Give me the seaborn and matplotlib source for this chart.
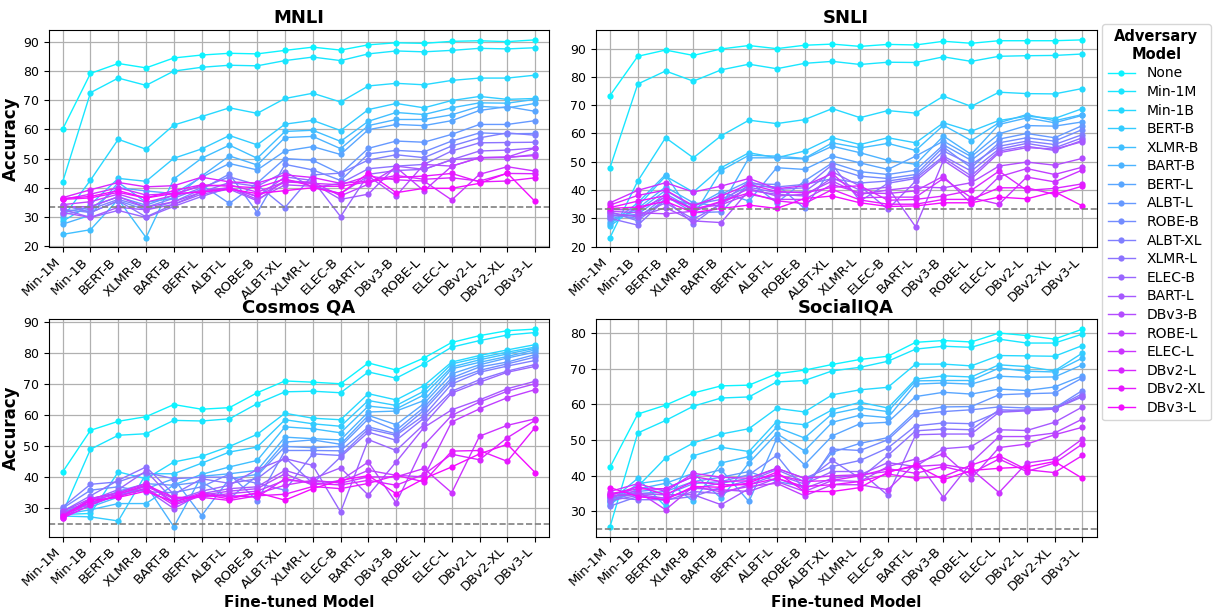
import pandas as pd
import matplotlib
matplotlib.use('Agg')
import matplotlib.pyplot as plt
from matplotlib.ticker import MultipleLocator
import seaborn as sns

# fine-tuned models (x axis) and adversary models (hue)
models = ['Min-1M', 'Min-1B', 'BERT-B', 'XLMR-B', 'BART-B', 'BERT-L', 'ALBT-L', 'ROBE-B',
          'ALBT-XL', 'XLMR-L', 'ELEC-B', 'BART-L', 'DBv3-B', 'ROBE-L', 'ELEC-L', 'DBv2-L',
          'DBv2-XL', 'DBv3-L']
adversaries = ['None'] + models

# accuracy, one row per adversary (same order as `adversaries`)
mnli_acc = [
    [60.1, 79.2, 82.6, 81.1, 84.5, 85.5, 86.1, 85.9, 87.1, 88.2, 87.2, 89.0, 89.7, 89.5, 90.2, 90.4, 90.1, 90.7],  # None
    [42.0, 72.6, 77.6, 75.1, 80.0, 81.3, 82.0, 81.8, 83.6, 84.8, 83.6, 85.9, 86.9, 86.6, 87.1, 87.8, 87.6, 88.0],  # Min-1M
    [29.7, 42.6, 56.6, 53.2, 61.5, 64.4, 67.4, 65.5, 70.6, 72.4, 69.4, 74.9, 75.8, 75.3, 76.8, 77.6, 77.6, 78.6],  # Min-1B
    [28.5, 34.2, 43.2, 42.2, 50.1, 53.3, 57.9, 54.7, 61.8, 63.1, 59.6, 66.8, 68.9, 67.4, 69.9, 71.3, 70.3, 70.6],  # BERT-B
    [24.0, 25.6, 36.0, 22.9, 43.0, 50.1, 54.6, 50.1, 59.3, 59.7, 55.9, 62.8, 65.8, 65.1, 67.4, 69.1, 69.0, 70.3],  # XLMR-B
    [27.5, 30.6, 41.8, 35.0, 36.4, 44.0, 50.9, 47.8, 57.2, 57.6, 53.4, 61.3, 63.4, 63.4, 65.0, 67.9, 67.4, 68.9],  # BART-B
    [30.8, 32.6, 40.0, 38.9, 38.0, 43.6, 48.3, 46.1, 52.6, 54.1, 51.4, 59.9, 61.7, 61.3, 63.0, 66.5, 67.8, 66.2],  # BERT-L
    [31.5, 33.5, 36.9, 34.0, 37.4, 41.0, 34.6, 41.6, 50.0, 49.4, 44.8, 53.5, 56.0, 55.6, 58.3, 61.7, 61.7, 63.0],  # ALBT-L
    [32.6, 31.5, 35.5, 32.4, 35.2, 39.5, 44.7, 31.5, 48.0, 46.1, 42.5, 51.6, 52.8, 52.3, 56.0, 58.8, 58.5, 58.6],  # ROBE-B
    [33.5, 32.6, 36.0, 33.3, 36.4, 40.0, 43.7, 41.0, 33.2, 44.4, 45.0, 49.5, 51.3, 50.3, 54.3, 57.1, 58.8, 58.0],  # ALBT-XL
    [34.2, 31.5, 35.5, 30.0, 34.3, 38.5, 41.8, 40.5, 45.5, 40.0, 41.5, 46.5, 47.4, 48.0, 52.6, 55.4, 55.5, 55.6],  # XLMR-L
    [32.6, 29.8, 32.2, 29.8, 33.6, 37.0, 40.0, 37.0, 43.7, 42.5, 30.1, 44.6, 45.9, 46.3, 49.6, 52.6, 52.9, 53.6],  # ELEC-B
    [31.5, 29.8, 33.3, 32.4, 34.3, 37.8, 39.5, 35.5, 42.6, 41.5, 36.0, 37.8, 47.4, 46.3, 49.6, 50.3, 50.3, 51.4],  # BART-L
    [33.5, 33.5, 36.9, 33.3, 35.2, 38.5, 40.0, 36.0, 41.0, 40.5, 38.0, 44.0, 37.2, 48.0, 47.4, 50.3, 50.5, 53.6],  # DBv3-B
    [34.2, 35.2, 37.8, 35.0, 37.4, 39.0, 40.0, 37.0, 42.0, 42.0, 37.2, 41.2, 47.0, 38.9, 47.4, 50.3, 50.5, 51.0],  # ROBE-L
    [36.0, 37.8, 40.0, 37.5, 38.0, 40.5, 41.0, 38.5, 42.0, 41.5, 41.0, 44.0, 42.7, 42.3, 35.8, 44.6, 47.2, 45.7],  # ELEC-L
    [36.6, 39.3, 41.8, 40.3, 40.7, 43.6, 42.0, 41.6, 44.4, 43.5, 41.5, 42.3, 44.2, 42.9, 43.4, 42.3, 44.9, 44.8],  # DBv2-L
    [36.0, 36.5, 38.4, 36.5, 39.0, 41.0, 40.5, 40.0, 43.0, 40.5, 40.5, 42.0, 43.5, 44.0, 44.9, 42.0, 42.3, 43.4],  # DBv2-XL
    [36.3, 37.0, 39.0, 36.5, 38.0, 38.5, 39.5, 38.0, 39.0, 40.0, 38.0, 45.0, 38.3, 39.8, 39.8, 41.5, 45.0, 35.3],  # DBv3-L
]

snli_acc = [
    [73.4, 87.3, 89.5, 87.6, 89.9, 91.1, 90.0, 91.2, 91.6, 90.8, 91.5, 91.3, 92.6, 91.9, 92.8, 92.8, 92.8, 93.1],
    [47.9, 77.5, 82.1, 78.5, 82.5, 84.5, 82.9, 84.8, 85.5, 84.4, 85.2, 85.1, 87.1, 85.5, 87.3, 87.5, 87.6, 88.1],
    [23.2, 43.2, 58.5, 51.4, 59.2, 64.7, 63.5, 64.9, 68.8, 65.6, 68.1, 67.2, 73.2, 69.6, 74.6, 74.1, 74.0, 75.9],
    [27.3, 34.3, 44.9, 39.3, 47.9, 53.2, 51.4, 53.8, 58.5, 56.1, 58.5, 56.7, 63.8, 60.8, 64.6, 66.1, 65.3, 68.8],
    [27.9, 35.5, 45.5, 30.8, 46.9, 52.3, 52.0, 51.2, 56.7, 54.9, 56.5, 54.0, 62.9, 57.5, 63.8, 66.7, 64.5, 66.7],
    [28.8, 33.5, 41.1, 35.5, 34.3, 51.4, 51.4, 51.0, 55.5, 53.2, 50.5, 49.1, 59.1, 52.6, 63.2, 65.5, 63.8, 66.4],
    [29.7, 32.6, 39.9, 34.0, 39.4, 36.1, 47.9, 47.3, 52.0, 49.6, 47.3, 52.0, 57.3, 51.8, 59.9, 62.8, 62.6, 64.1],
    [30.7, 31.4, 38.7, 33.2, 38.5, 43.2, 35.5, 43.2, 49.6, 46.5, 45.5, 47.0, 56.0, 50.5, 58.0, 60.0, 58.5, 62.8],
    [31.4, 30.0, 37.9, 32.0, 32.3, 42.2, 42.0, 33.5, 47.9, 44.9, 44.1, 45.5, 55.2, 47.9, 56.7, 58.5, 57.3, 61.4],
    [32.3, 29.1, 37.0, 34.9, 36.7, 41.4, 41.1, 42.0, 44.0, 42.5, 43.2, 44.6, 53.8, 49.0, 55.5, 57.3, 56.1, 59.6],
    [30.0, 27.6, 36.7, 28.1, 35.5, 43.0, 40.2, 40.8, 49.0, 36.1, 42.4, 44.1, 52.0, 46.7, 54.5, 56.5, 54.9, 58.5],
    [31.0, 31.0, 35.5, 29.7, 35.0, 41.0, 39.1, 39.4, 46.5, 41.4, 33.2, 43.2, 51.4, 45.0, 53.8, 55.5, 54.0, 57.6],
    [32.0, 30.5, 33.8, 29.1, 28.5, 39.9, 38.5, 37.9, 44.3, 40.0, 41.0, 27.0, 50.5, 44.0, 53.2, 55.0, 54.5, 57.1],
    [32.5, 32.0, 31.6, 32.5, 35.8, 40.5, 37.9, 38.5, 43.2, 38.5, 40.0, 41.1, 40.8, 42.6, 48.5, 49.9, 48.8, 51.2],
    [33.1, 33.0, 37.5, 33.5, 34.8, 38.5, 36.7, 36.7, 42.0, 39.0, 38.8, 39.7, 44.9, 35.2, 44.7, 47.6, 45.5, 48.1],
    [35.5, 39.9, 42.6, 39.3, 41.4, 44.1, 40.5, 41.5, 45.8, 37.3, 37.5, 37.5, 44.1, 37.3, 35.0, 44.6, 42.9, 47.1],
    [34.7, 38.1, 40.0, 34.5, 37.9, 42.0, 39.5, 39.0, 41.0, 41.5, 36.4, 36.7, 37.9, 39.9, 46.7, 39.9, 40.6, 42.2],
    [33.8, 36.1, 38.0, 33.0, 36.0, 39.0, 36.2, 35.2, 40.2, 36.5, 35.0, 35.0, 36.7, 36.7, 40.8, 40.8, 38.5, 41.4],
    [33.5, 34.0, 36.0, 32.0, 33.5, 34.7, 33.5, 37.0, 37.9, 35.5, 34.2, 34.4, 35.5, 35.5, 37.5, 36.9, 39.4, 34.4],
]

cosmos_acc = [
    [41.7, 55.1, 58.0, 59.5, 63.4, 61.9, 62.4, 67.2, 71.0, 70.6, 70.1, 76.8, 74.5, 78.4, 83.4, 85.6, 87.2, 87.7],
    [28.5, 49.0, 53.5, 54.0, 58.3, 58.1, 58.8, 63.7, 67.5, 67.7, 67.2, 73.9, 71.9, 76.5, 81.9, 84.0, 85.8, 86.6],
    [28.0, 28.3, 41.7, 39.5, 44.9, 46.7, 49.9, 53.8, 60.6, 59.0, 58.5, 66.9, 64.9, 69.5, 77.1, 79.2, 81.0, 82.7],
    [27.5, 27.2, 25.9, 41.1, 41.1, 44.5, 48.1, 49.7, 58.5, 57.2, 56.4, 64.7, 63.1, 67.7, 76.5, 78.5, 80.3, 81.9],
    [28.0, 29.5, 31.5, 31.5, 37.5, 40.9, 43.3, 45.4, 56.2, 55.6, 54.3, 62.9, 62.0, 66.5, 75.5, 77.8, 79.7, 81.5],
    [28.5, 30.4, 33.6, 37.4, 24.0, 40.3, 41.1, 42.2, 52.9, 52.4, 52.0, 61.0, 61.3, 64.7, 74.9, 77.0, 78.9, 81.0],
    [29.0, 31.0, 34.2, 36.3, 39.5, 27.6, 39.5, 40.9, 51.3, 52.0, 50.6, 59.9, 56.9, 63.7, 73.3, 76.2, 78.4, 80.3],
    [29.5, 31.5, 35.5, 37.9, 37.4, 38.5, 33.1, 40.5, 49.9, 49.5, 49.9, 58.8, 55.1, 62.5, 72.0, 75.5, 77.1, 79.5],
    [30.0, 35.8, 36.9, 35.3, 35.0, 36.9, 41.0, 32.4, 48.6, 48.6, 48.5, 56.2, 54.0, 61.5, 71.2, 74.4, 76.5, 78.7],
    [30.4, 37.7, 38.5, 41.5, 39.5, 40.0, 40.0, 38.0, 35.8, 47.5, 47.0, 55.5, 53.5, 59.9, 70.0, 73.8, 75.8, 77.6],
    [29.0, 34.0, 39.0, 43.3, 34.5, 39.5, 38.0, 39.5, 46.3, 38.0, 46.5, 54.5, 51.9, 59.0, 67.7, 71.4, 74.2, 76.3],
    [28.0, 32.6, 36.0, 42.0, 32.5, 35.5, 37.4, 42.5, 46.0, 43.8, 28.8, 52.1, 48.6, 57.0, 67.1, 70.6, 73.8, 75.7],
    [28.5, 31.5, 34.0, 36.0, 29.9, 34.7, 36.3, 36.9, 42.2, 39.5, 43.0, 34.2, 44.9, 56.0, 61.7, 64.9, 68.5, 70.9],
    [29.0, 33.1, 34.9, 38.0, 31.5, 34.2, 35.5, 36.3, 41.1, 37.4, 39.0, 44.9, 31.7, 50.3, 59.9, 64.2, 67.7, 70.1],
    [28.0, 32.6, 34.5, 37.0, 33.1, 33.6, 34.7, 35.5, 39.0, 38.5, 38.5, 42.2, 40.6, 40.1, 57.8, 62.0, 65.6, 68.2],
    [27.5, 33.1, 35.0, 38.0, 32.0, 35.0, 33.6, 34.7, 37.4, 39.0, 38.1, 40.1, 40.1, 42.8, 35.0, 53.2, 56.7, 58.8],
    [27.0, 32.0, 33.8, 36.5, 31.0, 34.0, 34.0, 33.6, 39.5, 38.0, 37.5, 39.0, 37.4, 40.9, 47.4, 45.6, 52.7, 58.3],
    [26.8, 31.0, 34.5, 37.5, 33.5, 33.5, 32.5, 34.0, 34.5, 37.0, 36.3, 38.0, 40.6, 38.5, 48.4, 48.6, 45.1, 56.0],
    [27.5, 32.5, 33.5, 35.5, 32.0, 34.5, 33.0, 35.0, 32.6, 36.3, 39.0, 40.5, 34.7, 39.5, 43.3, 47.5, 50.6, 41.5],
]

siqa_acc = [
    [42.4, 57.3, 59.8, 63.2, 65.2, 65.4, 68.6, 69.6, 71.2, 72.6, 73.5, 77.4, 77.9, 77.5, 80.0, 79.3, 78.3, 81.1],
    [25.7, 52.0, 55.5, 59.5, 61.8, 62.1, 66.3, 66.7, 69.4, 70.4, 72.1, 75.5, 76.3, 76.0, 78.3, 77.2, 77.2, 79.7],
    [33.5, 37.0, 45.0, 49.2, 51.7, 53.2, 58.9, 57.9, 62.7, 64.1, 64.8, 71.3, 71.3, 70.8, 73.7, 73.6, 73.5, 76.5],
    [32.8, 39.3, 31.4, 45.6, 48.0, 46.8, 55.2, 54.3, 58.5, 60.6, 59.0, 67.1, 68.0, 67.7, 71.1, 70.6, 69.4, 74.4],
    [31.9, 37.8, 38.9, 32.8, 43.6, 45.4, 53.6, 50.6, 57.4, 59.0, 58.0, 66.6, 66.7, 66.7, 70.2, 69.3, 69.1, 73.0],
    [32.5, 36.3, 37.9, 40.7, 33.7, 43.6, 51.8, 47.0, 55.0, 57.0, 56.3, 65.7, 66.0, 65.7, 67.9, 67.6, 67.7, 71.1],
    [33.0, 35.6, 36.4, 39.8, 41.7, 32.8, 50.4, 43.1, 51.2, 54.6, 55.0, 62.2, 63.4, 62.9, 64.3, 63.9, 64.9, 68.0],
    [33.5, 35.0, 35.6, 38.4, 39.6, 41.2, 38.4, 37.0, 46.6, 49.1, 50.7, 58.0, 59.3, 59.4, 62.7, 63.0, 63.2, 67.4],
    [34.2, 35.0, 34.7, 37.8, 38.4, 40.3, 45.7, 36.0, 47.5, 47.1, 50.1, 57.3, 58.0, 58.5, 59.3, 59.0, 59.0, 63.9],
    [31.5, 34.2, 33.7, 36.5, 37.9, 39.3, 42.1, 39.3, 42.6, 44.3, 47.8, 54.0, 54.8, 54.6, 58.0, 58.5, 59.0, 63.0],
    [34.0, 33.3, 33.3, 34.2, 36.8, 38.6, 41.7, 38.4, 44.3, 39.3, 45.7, 52.6, 53.1, 52.9, 58.5, 58.3, 58.8, 62.1],
    [33.0, 34.5, 33.0, 35.6, 35.0, 37.5, 40.3, 37.7, 41.2, 41.2, 34.5, 51.5, 51.7, 51.7, 57.8, 58.2, 58.7, 62.5],
    [34.5, 35.0, 34.7, 34.7, 31.9, 36.4, 39.3, 36.5, 39.3, 40.3, 43.7, 42.6, 47.6, 48.2, 52.9, 52.7, 55.0, 59.3],
    [34.2, 34.8, 33.7, 36.5, 36.1, 35.6, 38.4, 35.6, 38.7, 38.4, 42.6, 44.7, 33.9, 43.7, 51.0, 51.0, 52.0, 55.9],
    [35.0, 35.6, 30.5, 37.0, 35.5, 37.0, 37.9, 34.4, 37.5, 37.5, 36.1, 43.6, 46.2, 39.2, 47.9, 48.9, 51.5, 53.6],
    [35.6, 37.8, 35.6, 40.7, 39.6, 39.3, 42.1, 39.3, 40.0, 40.3, 41.2, 42.6, 43.1, 41.9, 35.3, 43.6, 44.7, 50.3],
    [35.0, 36.3, 36.4, 39.8, 38.4, 38.6, 40.3, 38.4, 38.7, 40.0, 42.0, 40.7, 42.6, 40.7, 44.7, 41.2, 43.6, 48.9],
    [34.5, 37.0, 34.7, 38.4, 37.5, 37.5, 39.3, 37.0, 37.5, 38.4, 40.5, 39.3, 39.8, 43.0, 45.6, 41.7, 40.9, 45.7],
    [36.7, 34.2, 33.3, 37.0, 36.8, 38.0, 41.0, 35.6, 35.6, 36.7, 41.0, 43.0, 38.9, 41.5, 42.1, 42.5, 44.0, 39.3],
]

titles = ['MNLI', 'SNLI', 'Cosmos QA', 'SocialIQA']
chance = [33.33, 33.33, 25, 25]

palette = sns.color_palette('cool', len(adversaries))

fig, axes = plt.subplots(2, 2, figsize=(12.13, 6.12), dpi=100)
fig.subplots_adjust(left=0.040, right=0.904, top=0.951, bottom=0.123, wspace=0.093, hspace=0.33)

handles, labels = None, None
for i, (ax, acc) in enumerate(zip(axes.flat, [mnli_acc, snli_acc, cosmos_acc, siqa_acc])):
    rows = []
    for adv, vals in zip(adversaries, acc):
        for m, v in zip(models, vals):
            rows.append((adv, m, v))
    df = pd.DataFrame(rows, columns=['Adversary Model', 'Fine-tuned Model', 'Accuracy'])

    sns.lineplot(data=df, x='Fine-tuned Model', y='Accuracy', hue='Adversary Model',
                 hue_order=adversaries, palette=palette, marker='o', markersize=4.5,
                 markeredgewidth=0, linewidth=1, sort=False, errorbar=None,
                 legend=(i == 1), ax=ax)
    if i == 1:
        handles, labels = ax.get_legend_handles_labels()
        ax.get_legend().remove()

    ax.axhline(chance[i], color='gray', linestyle='--', linewidth=1.2)
    ax.set_title(titles[i], fontsize=13, fontweight='bold', pad=5)
    ax.yaxis.set_major_locator(MultipleLocator(10))
    ax.grid(True, color='#b0b0b0', linewidth=0.9)
    ax.margins(x=0.03)
    plt.setp(ax.get_xticklabels(), rotation=45, ha='right', rotation_mode='default')
    ax.tick_params(axis='x', labelsize=9.5, pad=2)
    ax.tick_params(axis='y', labelsize=9)

    if i % 2 == 0:
        ax.set_ylabel('Accuracy', fontsize=12, fontweight='bold', labelpad=2)
    else:
        ax.set_ylabel('')
    if i >= 2:
        ax.set_xlabel('Fine-tuned Model', fontsize=11, fontweight='bold', labelpad=1)
    else:
        ax.set_xlabel('')

leg = fig.legend(handles, labels, title='Adversary\nModel', loc='upper left',
                 bbox_to_anchor=(0.9085, 0.961), borderaxespad=0, fontsize=10,
                 labelspacing=0.33, borderpad=0.4, handlelength=2.0,
                 title_fontproperties={'weight': 'bold', 'size': 10.5})
leg.get_title().set_multialignment('center')

plt.savefig('out.png', dpi=100)
